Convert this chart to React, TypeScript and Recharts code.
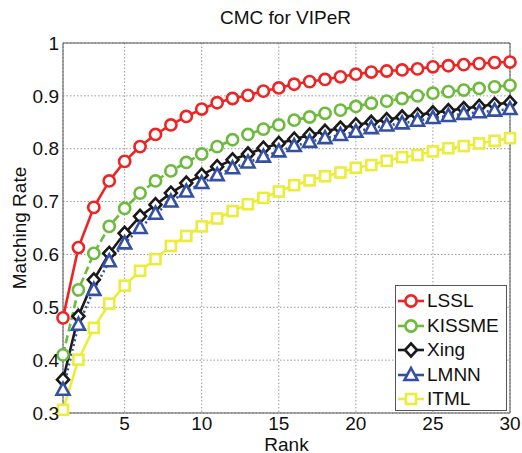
import React from "react";
import { LineChart, Line, XAxis, YAxis, CartesianGrid, ReferenceLine } from "recharts";

const ranks = Array.from({ length: 30 }, (_, i) => i + 1);

const lssl = [
  0.48, 0.613, 0.689, 0.739, 0.776, 0.804, 0.827, 0.845, 0.861, 0.875, 0.887, 0.895, 0.901, 0.909, 0.915,
  0.922, 0.927, 0.931, 0.936, 0.941, 0.945, 0.947, 0.949, 0.951, 0.955, 0.957, 0.959, 0.961, 0.963, 0.964,
];
const kissme = [
  0.41, 0.533, 0.602, 0.653, 0.687, 0.716, 0.739, 0.758, 0.774, 0.79, 0.804, 0.817, 0.827, 0.837, 0.845,
  0.854, 0.86, 0.867, 0.873, 0.88, 0.886, 0.89, 0.895, 0.9, 0.905, 0.908, 0.911, 0.914, 0.917, 0.92,
];
const xing = [
  0.363, 0.483, 0.552, 0.602, 0.64, 0.672, 0.694, 0.716, 0.735, 0.75, 0.766, 0.779, 0.79, 0.801, 0.81,
  0.818, 0.826, 0.833, 0.839, 0.845, 0.85, 0.855, 0.86, 0.864, 0.868, 0.872, 0.876, 0.88, 0.884, 0.887,
];
const lmnn = [
  0.344, 0.467, 0.533, 0.587, 0.621, 0.65, 0.677, 0.7, 0.719, 0.735, 0.75, 0.763, 0.774, 0.785, 0.795,
  0.805, 0.813, 0.82, 0.826, 0.832, 0.839, 0.844, 0.848, 0.853, 0.858, 0.862, 0.866, 0.869, 0.872, 0.875,
];
const itml = [
  0.306, 0.401, 0.461, 0.507, 0.541, 0.569, 0.591, 0.616, 0.635, 0.653, 0.668, 0.682, 0.695, 0.707, 0.719,
  0.731, 0.74, 0.748, 0.755, 0.764, 0.769, 0.777, 0.784, 0.788, 0.795, 0.801, 0.805, 0.81, 0.815, 0.82,
];

const xTicks = [5, 10, 15, 20, 25, 30];
const yTicks = [0.3, 0.4, 0.5, 0.6, 0.7, 0.8, 0.9, 1];

const data = ranks.map((r, i) => ({
  rank: r,
  LSSL: lssl[i],
  KISSME: kissme[i],
  Xing: xing[i],
  LMNN: lmnn[i],
  ITML: itml[i],
}));

type Shape = "circle" | "diamond" | "triangle" | "square";

const series: { key: string; color: string; shape: Shape; dash?: string }[] = [
  { key: "LSSL", color: "#ee2424", shape: "circle" },
  { key: "KISSME", color: "#6cbb3c", shape: "circle", dash: "8 4" },
  { key: "Xing", color: "#1a1a1a", shape: "diamond" },
  { key: "LMNN", color: "#3450a4", shape: "triangle", dash: "2 3" },
  { key: "ITML", color: "#ecec3a", shape: "square" },
];

const font = "'Liberation Sans', Arial, sans-serif";
const fs = 19;

function Marker({ cx, cy, shape, color }: { cx: number; cy: number; shape: Shape; color: string }) {
  const sw = 2.6;
  if (shape === "circle")
    return <circle cx={cx} cy={cy} r={5.6} fill="#fff" stroke={color} strokeWidth={sw} />;
  if (shape === "diamond")
    return (
      <polygon
        points={`${cx},${cy - 6.5} ${cx + 6},${cy} ${cx},${cy + 6.5} ${cx - 6},${cy}`}
        fill="#fff"
        stroke={color}
        strokeWidth={sw}
      />
    );
  if (shape === "triangle")
    return (
      <polygon
        points={`${cx},${cy - 7} ${cx + 6.5},${cy + 5} ${cx - 6.5},${cy + 5}`}
        fill="#fff"
        stroke={color}
        strokeWidth={sw}
      />
    );
  return <rect x={cx - 5} y={cy - 5} width={10} height={10} fill="#fff" stroke={color} strokeWidth={sw} />;
}

function LegendBox() {
  return (
    <div
      style={{
        position: "absolute",
        left: 395,
        top: 285,
        width: 112,
        height: 126,
        border: "1px solid #555",
        background: "#fff",
        padding: "3px 0 0 2px",
        boxSizing: "border-box",
        fontFamily: font,
        fontSize: fs,
      }}
    >
      {series.map((s) => (
        <div key={s.key} style={{ display: "flex", alignItems: "center", height: 24.5 }}>
          <svg width={26} height={20} style={{ marginRight: 3, flex: "none" }}>
            <line x1={0} y1={10} x2={26} y2={10} stroke={s.color} strokeWidth={2.6} />
            <Marker cx={13} cy={10} shape={s.shape} color={s.color} />
          </svg>
          <span style={{ color: "#111", whiteSpace: "nowrap" }}>{s.key}</span>
        </div>
      ))}
    </div>
  );
}

export default function App() {
  return (
    <div style={{ position: "absolute", left: 0, top: 0, width: 522, height: 453, background: "#fff" }}>
      <div
        style={{
          position: "absolute",
          left: 63,
          width: 445,
          top: 7,
          textAlign: "center",
          fontFamily: font,
          fontSize: fs,
          color: "#111",
        }}
      >
        CMC for VIPeR
      </div>
      <LineChart width={522} height={453} data={data} margin={{ top: 43, right: 12, bottom: 0, left: 0 }}>
        <CartesianGrid stroke="#999" strokeDasharray="1.5 2" />
        <XAxis
          dataKey="rank"
          type="number"
          domain={[1, 30]}
          ticks={xTicks}
          height={40}
          tickLine={false}
          tickSize={0}
          stroke="#555"
          tickMargin={4}
          tick={{ fill: "#111", fontSize: fs, fontFamily: font }}
          label={{ value: "Rank", position: "center", dy: 11, fill: "#111", fontSize: fs, fontFamily: font }}
        />
        <YAxis
          type="number"
          domain={[0.3, 1]}
          ticks={yTicks}
          width={63}
          tickLine={false}
          tickSize={0}
          stroke="#555"
          tickMargin={4}
          tickFormatter={(v) => String(v)}
          tick={{ fill: "#111", fontSize: fs, fontFamily: font }}
          label={{
            value: "Matching Rate",
            angle: -90,
            position: "center",
            dx: -12,
            fill: "#111",
            fontSize: fs,
            fontFamily: font,
          }}
        />
        <ReferenceLine x={30} stroke="#555" />
        <ReferenceLine y={1} stroke="#555" />
        {series.map((s) => (
          <Line
            key={s.key}
            dataKey={s.key}
            type="linear"
            stroke={s.color}
            strokeWidth={2.6}
            strokeDasharray={s.dash}
            isAnimationActive={false}
            dot={(p: any) => <Marker key={p.index} cx={p.cx} cy={p.cy} shape={s.shape} color={s.color} />}
            activeDot={false}
          />
        ))}
      </LineChart>
      <LegendBox />
    </div>
  );
}
